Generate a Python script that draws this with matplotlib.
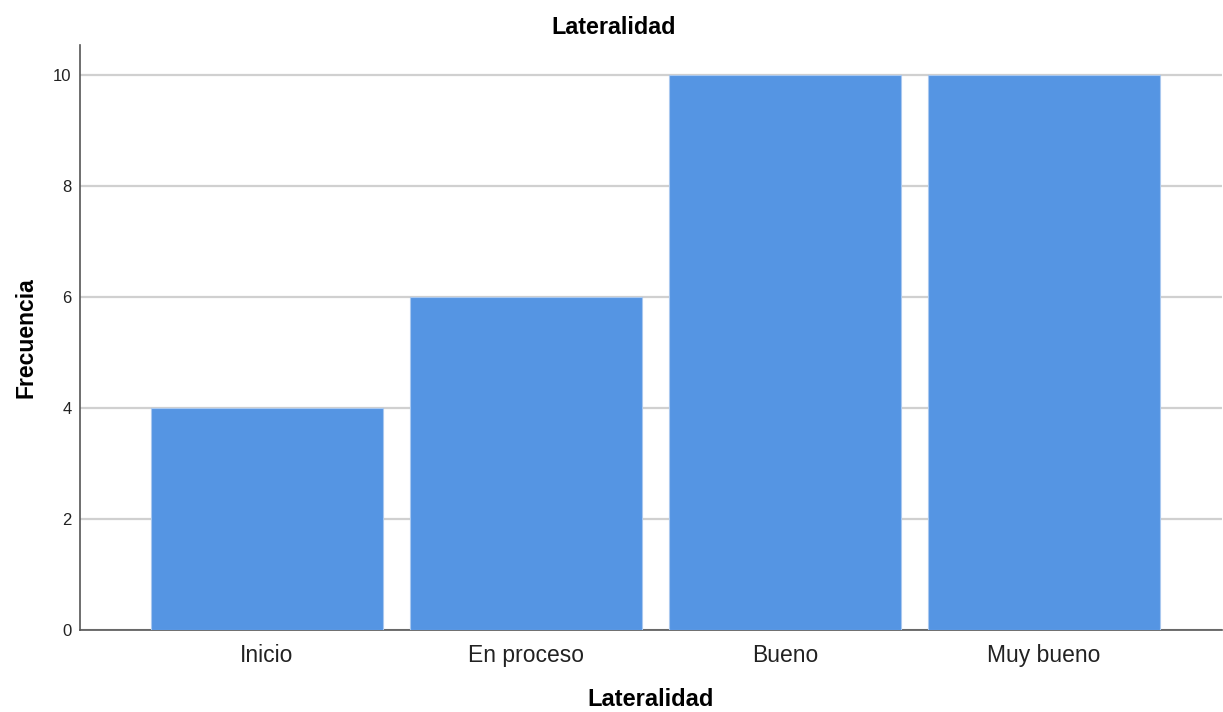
import matplotlib.pyplot as plt
import numpy as np

plt.rcParams['font.family'] = ['Liberation Sans', 'DejaVu Sans']

categorias = ['Inicio', 'En proceso', 'Bueno', 'Muy bueno']
frecuencia = [4, 6, 10, 10]
yticks = [0, 2, 4, 6, 8, 10]

fig = plt.figure(figsize=(12.23, 7.12), dpi=100)
ax = fig.add_axes([0.0654, 0.1152, 0.9338, 0.8216])

x = np.arange(len(categorias))
ax.bar(x, frecuencia, width=0.896, color='#5595e3', edgecolor='#a9c8ef',
       linewidth=0.8, zorder=3)

ax.set_xlim(-0.722, 3.687)
ax.set_ylim(0, 10.54)
ax.set_yticks(yticks)
ax.set_xticks(x)
ax.set_xticklabels(categorias, fontsize=16.5, color='#222222')
ax.tick_params(axis='y', labelsize=12, length=0, pad=6, colors='#222222')
ax.tick_params(axis='x', length=0, pad=10)

ax.grid(axis='y', color='#d0d0d0', linewidth=1.6, zorder=0)
for s in ['top', 'right']:
    ax.spines[s].set_visible(False)
for s in ['left', 'bottom']:
    ax.spines[s].set_color('#555555')
    ax.spines[s].set_linewidth(1.2)

# title sits over the whole chart area, not the plot box
fig.text(0.502, 0.962, 'Lateralidad', fontsize=16.8, fontweight='bold',
         ha='center', va='center')
ax.set_ylabel('Frecuencia', fontsize=16.5, fontweight='bold', labelpad=11)
ax.set_xlabel('Lateralidad', fontsize=17, fontweight='bold', labelpad=15)

fig.savefig('out.png', dpi=100)
